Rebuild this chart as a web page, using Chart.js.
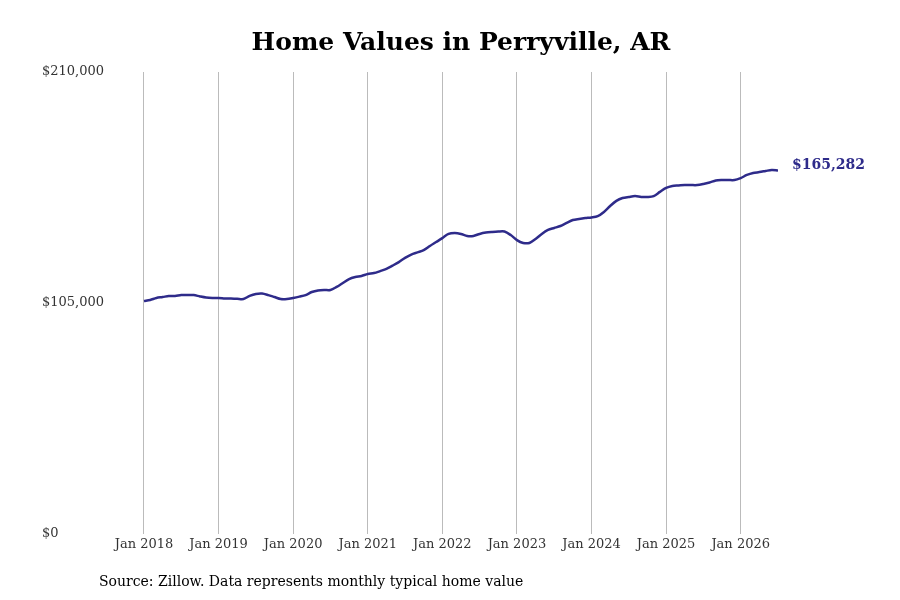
<!DOCTYPE html>
<html>
<head>
<meta charset="utf-8">
<script src="https://cdn.jsdelivr.net/npm/chart.js@4"></script>
<style>
  body { margin: 0; background: #fff; }
  #wrap { position: relative; width: 900px; height: 600px; }
  #title { position: absolute; top: 27px; left: 0; width: 922px; text-align: center;
    font: bold 25px "DejaVu Serif", serif; color: #000; }
  #source { position: absolute; top: 573px; left: 99px; font: 14px "DejaVu Serif", serif; color: #000; }
</style>
</head>
<body>
<div id="wrap">
  <canvas id="chart" width="900" height="600"></canvas>
  <div id="title">Home Values in Perryville, AR</div>
  <div id="source">Source: Zillow. Data represents monthly typical home value</div>
</div>
<script>
// monthly values, Jan 2018 .. Jul 2026
const startYear = 2018;
const values = [
  105900, 106400, 107300, 107700, 108200, 108200, 108600, 108600, 108600, 108000, 107500, 107300,
  107300, 107100, 107000, 106900, 106800, 108200, 109100, 109300, 108600, 107700, 106800, 106800,
  107300, 107900, 108600, 110000, 110700, 110900, 110900, 112300, 114100, 115900, 116800, 117300,
  118200, 118600, 119500, 120500, 122000, 123600, 125500, 127000, 128000, 129000, 130900, 132700,
  134500, 136400, 136800, 136400, 135500, 135500, 136400, 137000, 137300, 137500, 137500, 135900,
  133600, 132300, 132300, 134100, 136400, 138200, 139100, 140000, 141400, 142700, 143200, 143600,
  143900, 144500, 146400, 149100, 151400, 152700, 153200, 153600, 153200, 153200, 153600, 155500,
  157300, 158200, 158400, 158600, 158600, 158600, 159100, 159800, 160700, 160900, 160900, 160900,
  161800, 163200, 164100, 164500, 165000, 165500, 165282
];
const yTicks = [0, 105000, 210000];
const lineColor = '#2e2b8a';

const points = values.map((v, i) => ({ x: i, y: v }));
const fmt = v => '$' + v.toLocaleString('en-US');

const endLabel = {
  id: 'endLabel',
  afterDatasetsDraw(chart) {
    const meta = chart.getDatasetMeta(0);
    const last = meta.data[meta.data.length - 1];
    const ctx = chart.ctx;
    ctx.save();
    ctx.font = 'bold 14px "DejaVu Serif", serif';
    ctx.fillStyle = lineColor;
    ctx.textBaseline = 'middle';
    ctx.fillText(fmt(values[values.length - 1]), last.x + 14, last.y - 5);
    ctx.restore();
  }
};

new Chart(document.getElementById('chart'), {
  type: 'line',
  data: {
    datasets: [{
      data: points,
      borderColor: lineColor,
      borderWidth: 2.5,
      pointRadius: 0,
      tension: 0.3,
      fill: false
    }]
  },
  options: {
    responsive: false,
    animation: false,
    layout: { padding: { top: 72, left: 42, right: 35, bottom: 0 } },
    plugins: { legend: { display: false }, tooltip: { enabled: false } },
    scales: {
      x: {
        type: 'linear',
        min: -4.5,
        max: 116,
        afterFit: s => { s.height = 66; },
        afterBuildTicks: s => {
          s.ticks = [];
          for (let i = 0; i <= 96; i += 12) s.ticks.push({ value: i });
        },
        ticks: {
          callback: v => 'Jan ' + (startYear + v / 12),
          color: '#333',
          font: { family: '"DejaVu Serif", serif', size: 13 },
          maxRotation: 0,
          autoSkip: false
        },
        grid: { color: '#bbbbbb', lineWidth: 1, drawTicks: false },
        border: { display: false }
      },
      y: {
        min: 0,
        max: 210000,
        afterFit: s => { s.width = 74; },
        afterBuildTicks: s => { s.ticks = yTicks.map(v => ({ value: v })); },
        ticks: {
          callback: v => fmt(v),
          crossAlign: 'far',
          color: '#333',
          font: { family: '"DejaVu Serif", serif', size: 13 }
        },
        grid: { display: false },
        border: { display: false }
      }
    }
  },
  plugins: [endLabel]
});
</script>
</body>
</html>
